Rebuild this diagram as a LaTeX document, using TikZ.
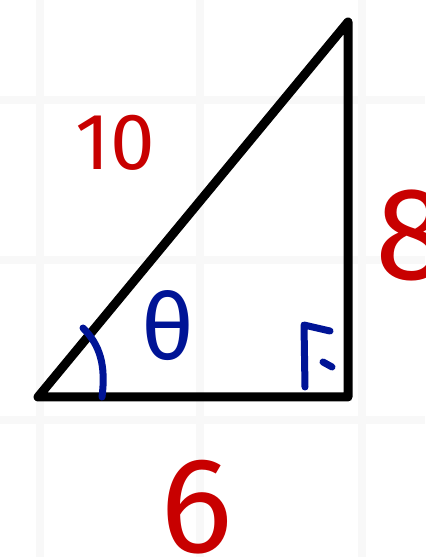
\documentclass[tikz,border=0pt]{standalone}
\usepackage{fontspec}
\setmainfont{Fira Sans}
\usetikzlibrary{calc}
\definecolor{trired}{RGB}{200,0,0}
\definecolor{triblue}{RGB}{0,20,150}
\definecolor{trigrid}{RGB}{248,248,248}

\begin{document}
\begin{tikzpicture}[x=0.5pt,y=0.5pt,
  gridline/.style={trigrid,line width=4pt},
  side/.style={line width=4.5pt,line cap=round,line join=round},
  anglemark/.style={triblue,line width=3.5pt,line cap=round,line join=round},
  sidelabel/.style={trired,inner sep=0pt}]
  \useasboundingbox (0,0) rectangle (425,557);
  \fill[white] (0,0) rectangle (425,557);

  % faint grid behind the sheet
  \foreach \x in {40,200,362} \draw[gridline] (\x,0) -- (\x,557);
  \foreach \y in {137,297,457} \draw[gridline] (0,\y) -- (425,\y);

  \coordinate (B) at (38,160);
  \coordinate (C) at (348,160);
  \coordinate (A) at (348,535);

  \draw[side] (B) -- (C) -- (A) -- cycle;

  % angle at B and the right angle at C
  \draw[anglemark] (83,229) .. controls (100,212) and (106,192) .. (102,160);
  \draw[anglemark] (305,170) -- (304,232) -- (330,226);
  \draw[anglemark] (323,195) -- (332,190);

  \node[triblue,inner sep=0pt,font=\fontsize{46}{46}\selectfont] (theta) at (168,231) {θ};
  \node[sidelabel,font=\fontsize{40}{40}\selectfont] (hyp) at (115,414) {10};
  \node[sidelabel,font=\fontsize{66}{66}\selectfont] (opp) at (412,322) {8};
  \node[sidelabel,font=\fontsize{68}{68}\selectfont] (adj) at (197,50) {6};
\end{tikzpicture}
\end{document}
